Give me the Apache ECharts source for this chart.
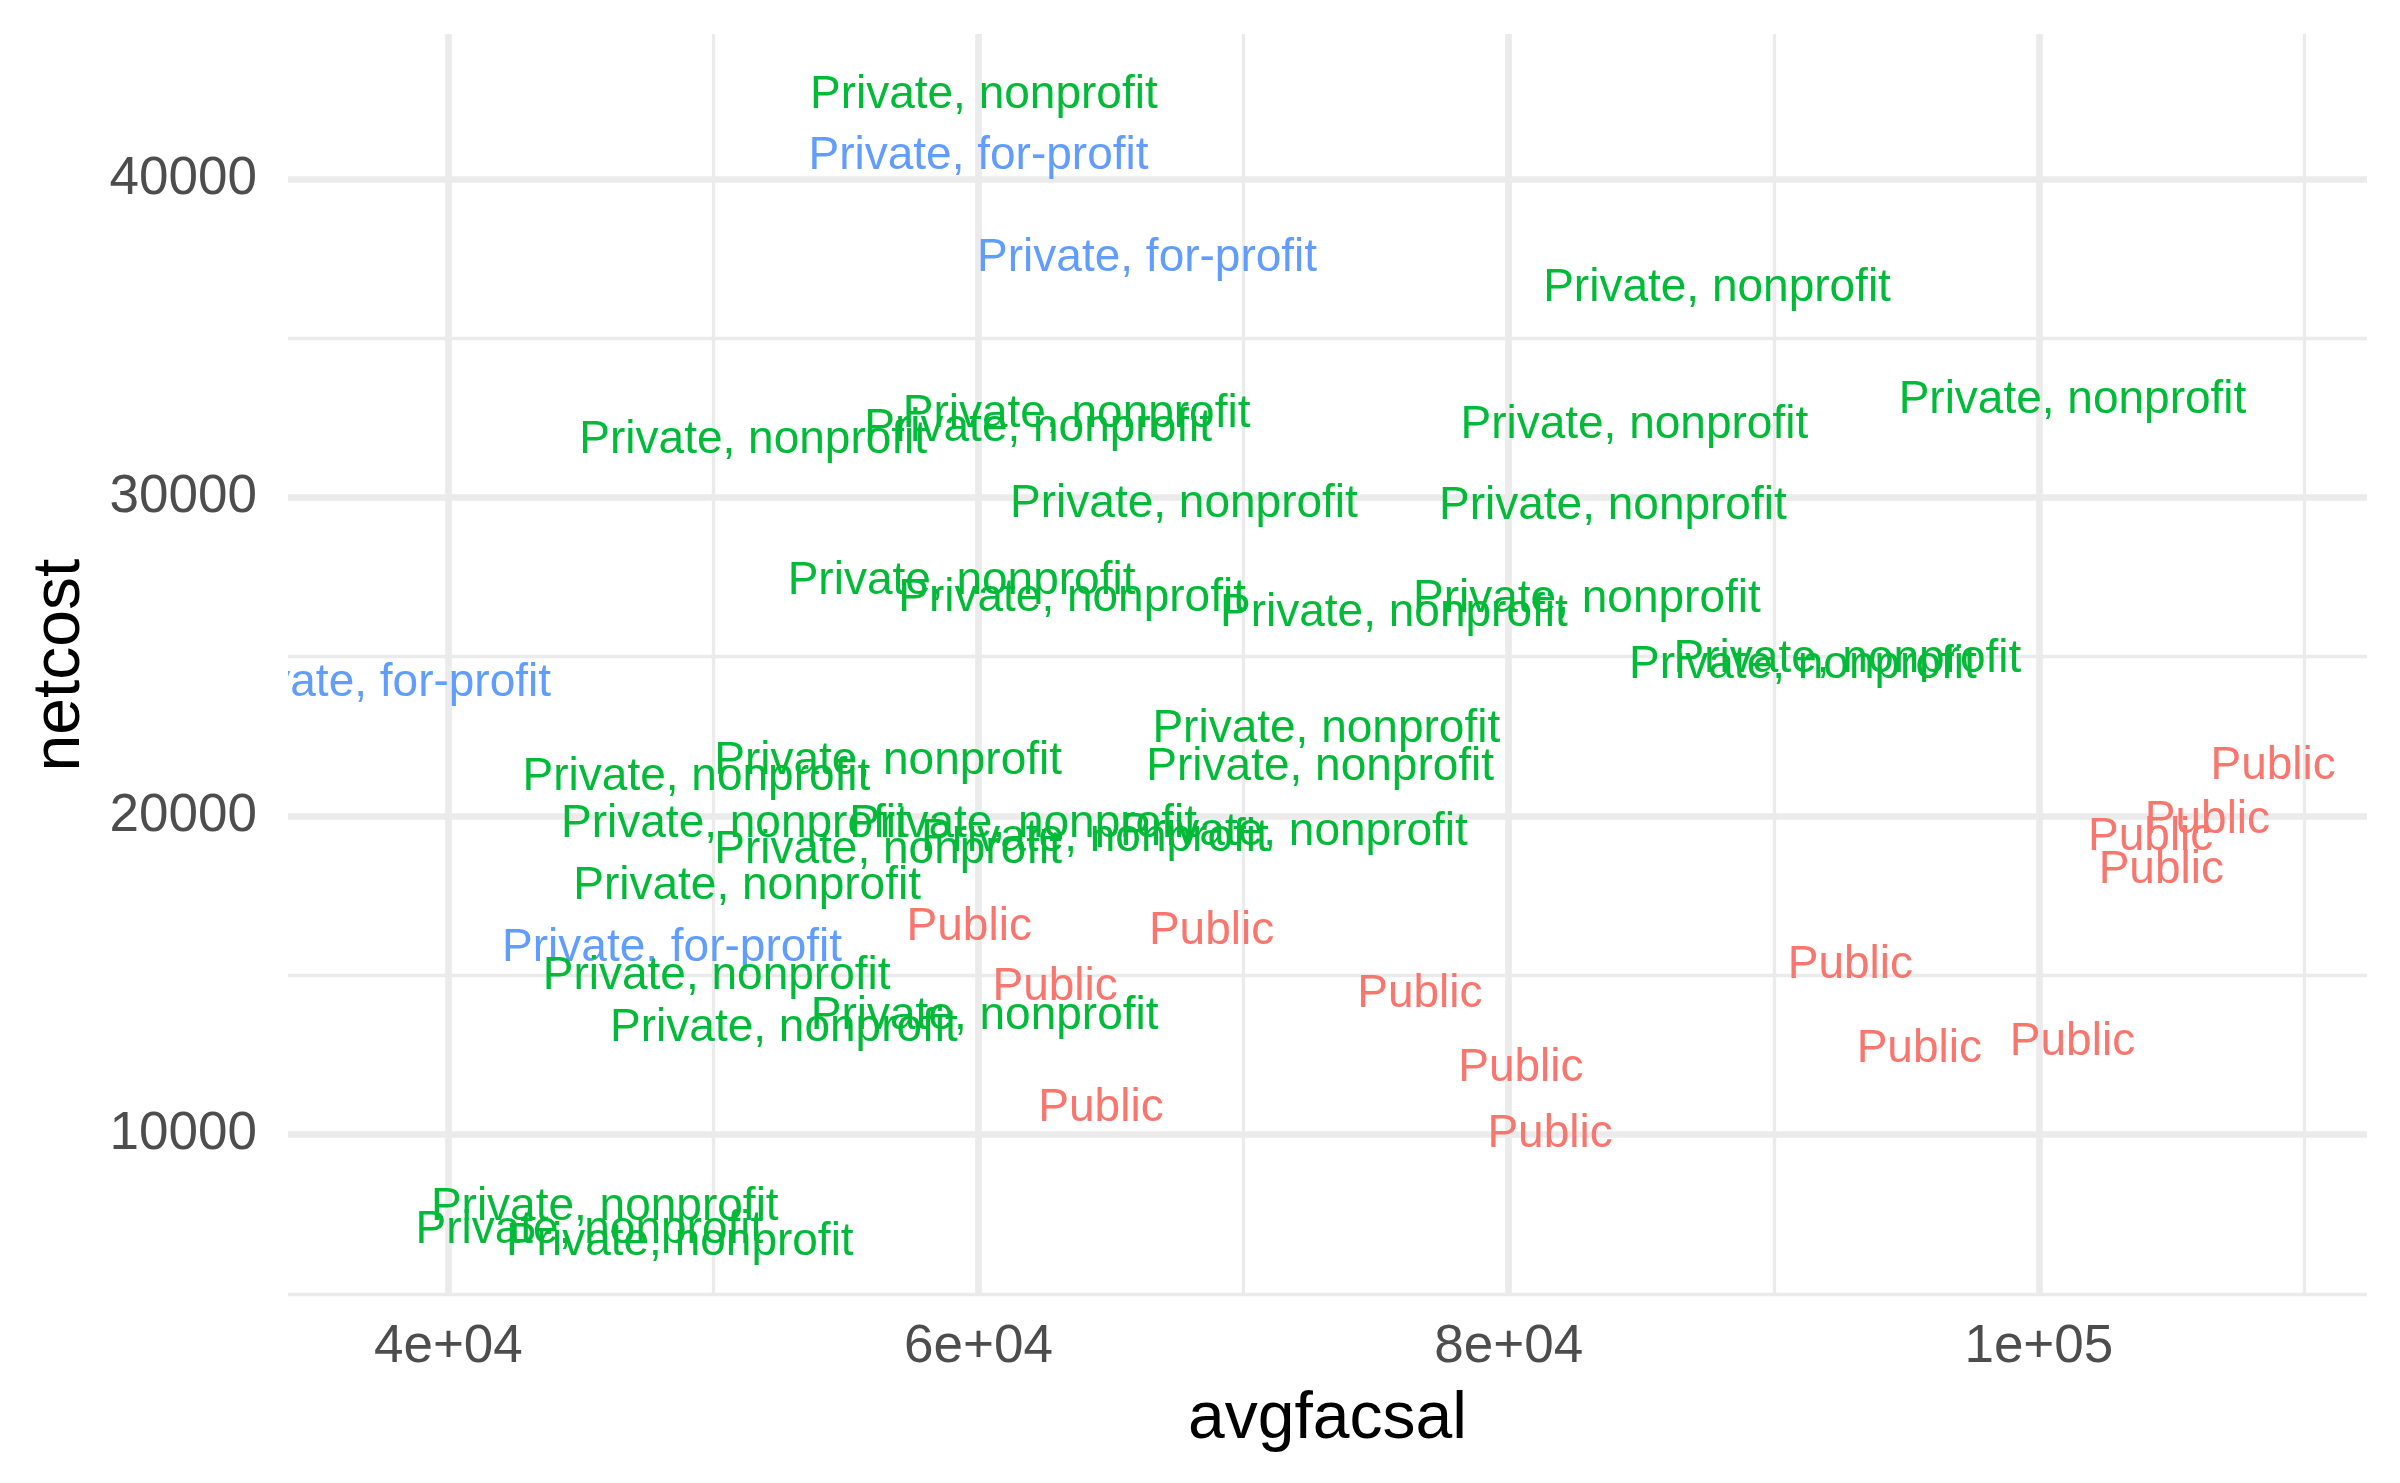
<!DOCTYPE html>
<html>
<head>
<meta charset="utf-8">
<title>netcost vs avgfacsal</title>
<script src="https://cdn.jsdelivr.net/npm/echarts@6/dist/echarts.min.js"></script>
<style>
  html, body { margin: 0; padding: 0; background: #fff; }
  #chart { width: 2400px; height: 1483px; }
</style>
</head>
<body>
<div id="chart"></div>
<script>
/* =========================
 * data
 * ========================= */
var control = [
    'Private, nonprofit', 'Private, for-profit', 'Private, for-profit', 'Private, nonprofit', 'Private, nonprofit',
    'Private, nonprofit', 'Private, nonprofit', 'Private, nonprofit', 'Private, nonprofit', 'Private, nonprofit',
    'Private, nonprofit', 'Private, nonprofit', 'Private, nonprofit', 'Private, nonprofit', 'Private, nonprofit',
    'Private, nonprofit', 'Private, nonprofit', 'Private, for-profit', 'Private, nonprofit', 'Private, nonprofit',
    'Private, nonprofit', 'Private, nonprofit', 'Public', 'Private, nonprofit', 'Private, nonprofit',
    'Private, nonprofit', 'Private, nonprofit', 'Private, nonprofit', 'Public', 'Public',
    'Public', 'Private, nonprofit', 'Public', 'Public', 'Private, for-profit',
    'Private, nonprofit', 'Public', 'Public', 'Public', 'Private, nonprofit',
    'Private, nonprofit', 'Public', 'Public', 'Public', 'Public',
    'Public', 'Private, nonprofit', 'Private, nonprofit', 'Private, nonprofit'
];
var avgfacsal = [
    60200, 60000, 66360, 87860, 101270,
    63700, 62250, 84740, 51500, 67750,
    83930, 59360, 63530, 82950, 75670,
    92780, 91100, 37460, 73120, 56590,
    72890, 49360, 108840, 50810, 61680,
    71900, 64390, 56590, 106360, 104220,
    104620, 51270, 59650, 68790, 48440,
    50120, 62890, 76650, 92890, 60230,
    52660, 95490, 101270, 80460, 64620,
    81560, 45900, 45320, 48730
];
var netcost = [
    42740, 40820, 37640, 36680, 33170,
    32740, 32310, 32400, 31920, 29900,
    29860, 27500, 26970, 26920, 26490,
    25050, 24860, 24280, 22840, 21830,
    21640, 21350, 21680, 19860, 19860,
    19620, 19420, 19040, 20000, 19470,
    18410, 17930, 16640, 16490, 15960,
    15100, 14760, 14520, 15430, 13850,
    13460, 12790, 13030, 12210, 10960,
    10140, 7840, 7120, 6730
];

var xTickValues = [40000, 60000, 80000, 100000];
var xTickLabels = ['4e+04', '6e+04', '8e+04', '1e+05'];
var xMinorValues = [50000, 70000, 90000, 110000];
var yTickValues = [10000, 20000, 30000, 40000];
var yTickLabels = ['10000', '20000', '30000', '40000'];
var yMinorValues = [5000, 15000, 25000, 35000];

var groupColors = {
    'Private, for-profit': '#619CFF',
    'Private, nonprofit': '#00BA38',
    'Public': '#F8766D'
};

/* ---------- series data ---------- */
var points = avgfacsal.map(function (x, i) {
    return [x, netcost[i]];
});

/* ---------- grid lines as mark lines ---------- */
function gridLines(values, key, width) {
    return values.map(function (v) {
        var d = { lineStyle: { width: width } };
        d[key] = v;
        return d;
    });
}
var gridData = []
    .concat(gridLines(xMinorValues, 'xAxis', 3.3))
    .concat(gridLines(yMinorValues, 'yAxis', 3.3))
    .concat(gridLines(xTickValues, 'xAxis', 6.7))
    .concat(gridLines(yTickValues, 'yAxis', 6.7));

var FONT = '"Liberation Sans", Arial, sans-serif';

var chart = echarts.init(document.getElementById('chart'), null, { renderer: 'canvas' });

var option = {
    animation: false,
    backgroundColor: '#ffffff',
    grid: { left: 288, right: 33, top: 34, bottom: 187, containLabel: false },
    xAxis: {
        type: 'value',
        min: 33950,
        max: 112380,
        name: 'avgfacsal',
        nameLocation: 'middle',
        nameGap: 91,
        nameTextStyle: { color: '#000000', fontSize: 66, fontFamily: FONT },
        axisLine: { show: false },
        axisTick: { show: false, customValues: xTickValues },
        splitLine: { show: false },
        axisLabel: {
            customValues: xTickValues,
            margin: 25,
            color: '#4D4D4D',
            fontSize: 53,
            fontFamily: FONT,
            formatter: function (v) {
                var i = xTickValues.indexOf(v);
                return i >= 0 ? xTickLabels[i] : '';
            }
        }
    },
    yAxis: {
        type: 'value',
        min: 4930,
        max: 44550,
        name: 'netcost',
        nameLocation: 'middle',
        nameRotate: 90,
        nameGap: 194,
        nameTextStyle: { color: '#000000', fontSize: 66, fontFamily: FONT },
        axisLine: { show: false },
        axisTick: { show: false, customValues: yTickValues },
        splitLine: { show: false },
        axisLabel: {
            customValues: yTickValues,
            margin: 31,
            padding: [6, 0, 0, 0],
            color: '#4D4D4D',
            fontSize: 53,
            fontFamily: FONT,
            formatter: function (v) {
                var i = yTickValues.indexOf(v);
                return i >= 0 ? yTickLabels[i] : '';
            }
        }
    },
    series: [
        {
            type: 'scatter',
            z: 1,
            silent: true,
            data: [],
            markLine: {
                z: 1,
                silent: true,
                symbol: ['none', 'none'],
                label: { show: false },
                lineStyle: { color: '#EBEBEB', type: 'solid' },
                data: gridData
            }
        },
        {
            type: 'custom',
            z: 10,
            clip: true,
            silent: true,
            data: points,
            renderItem: function (params, api) {
                var pt = api.coord([api.value(0), api.value(1)]);
                var grp = control[params.dataIndex];
                return {
                    type: 'text',
                    x: pt[0],
                    y: pt[1] + 4, // ggplot centres the glyph box a little lower
                    style: {
                        text: grp,
                        fill: groupColors[grp],
                        fontSize: 46,
                        fontFamily: FONT,
                        align: 'center',
                        verticalAlign: 'middle'
                    }
                };
            }
        }
    ]
};

chart.setOption(option);
</script>
</body>
</html>
